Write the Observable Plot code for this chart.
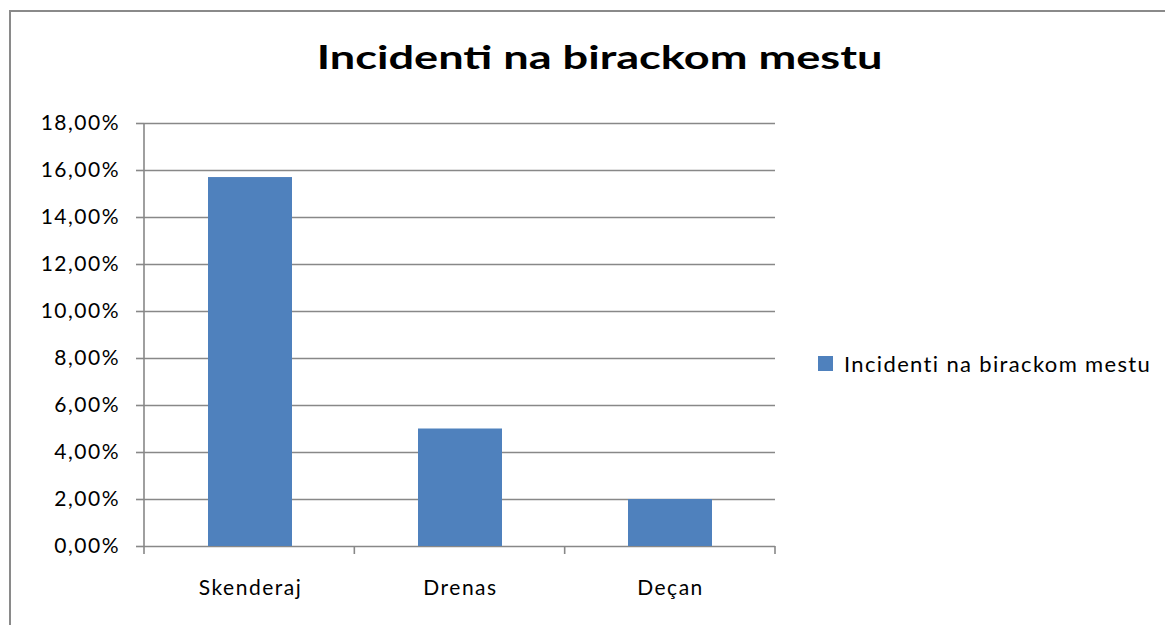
<!DOCTYPE html>
<html>
<head>
<meta charset="utf-8">
<script src="https://cdn.jsdelivr.net/npm/d3@7"></script>
<script src="https://cdn.jsdelivr.net/npm/@observablehq/plot@0.6"></script>
<style>
  html, body { margin: 0; padding: 0; background: #fff; width: 1165px; height: 625px; overflow: hidden; font-family: Lato, "Open Sans", sans-serif; }
  #frame { position: absolute; left: 9px; top: 10px; width: 1300px; height: 800px; border: 2px solid #8a8a8a; box-sizing: border-box; }
  #title { position: absolute; left: 0; width: 1200px; top: 41px; text-align: center; font-weight: 700; font-size: 32px; color: #000; line-height: 1; }
  #title span { display: inline-block; transform: scaleX(1.41); transform-origin: center; }
  #chart { position: absolute; left: 0; top: 100px; }
  #legend { position: absolute; left: 818px; top: 347px; width: 500px; }
  #legend span { white-space: nowrap; }
</style>
</head>
<body>
<div id="frame"></div>
<div id="title"><span></span></div>
<div id="chart"></div>
<div id="legend"></div>
<script>
const titleText = "Incidenti na birackom mestu";
const seriesName = "Incidenti na birackom mestu";
const categories = ["Skenderaj", "Drenas", "Deçan"];
const values = [0.157, 0.05, 0.02];
const yTicks = [0, 0.02, 0.04, 0.06, 0.08, 0.10, 0.12, 0.14, 0.16, 0.18];
const barColor = "#4F81BD";
const gridColor = "#888888";

const data = categories.map((c, i) => ({category: c, value: values[i]}));
const fmt = d => (d * 100).toFixed(2).replace(".", ",") + "%";

document.querySelector("#title span").textContent = titleText;

// axis line on the left and category boundary ticks on the bottom
function frameTicks(index, scales, vals, dims) {
  const g = d3.create("svg:g").attr("stroke", gridColor).attr("stroke-width", 1.6);
  const left = dims.marginLeft, right = dims.width - dims.marginRight;
  const top = dims.marginTop, bottom = dims.height - dims.marginBottom;
  const n = categories.length;
  const step = (right - left) / n;
  g.append("line").attr("x1", left).attr("x2", left).attr("y1", top).attr("y2", bottom + 8);
  for (let i = 1; i <= n; i++) {
    const x = left + i * step;
    g.append("line").attr("x1", x).attr("x2", x).attr("y1", bottom).attr("y2", bottom + 8);
  }
  return g.node();
}

const chart = Plot.plot({
  width: 1165,
  height: 525,
  marginTop: 23,
  marginBottom: 79,
  marginLeft: 144,
  marginRight: 390,
  style: {fontFamily: "Lato, 'Open Sans', sans-serif", fontSize: "21px", letterSpacing: "1.5px", color: "#000", background: "transparent", overflow: "visible"},
  x: {domain: categories, paddingInner: 0.6, paddingOuter: 0.3, label: null},
  y: {domain: [0, 0.18], label: null},
  marks: [
    Plot.gridY(yTicks, {stroke: gridColor, strokeOpacity: 1, strokeWidth: 1.6}),
    Plot.barY(data, {x: "category", y: "value", fill: barColor}),
    Plot.axisY(yTicks, {tickFormat: fmt, tickSize: 8, tickPadding: 16.5, stroke: gridColor, strokeWidth: 1.6, fill: "#000", fontSize: 21, label: null}),
    Plot.axisX({tickSize: 0, tickPadding: 34, fill: "#000", fontSize: 21, label: null}),
    frameTicks
  ]
});
document.getElementById("chart").appendChild(chart);

const legend = Plot.legend({
  color: {type: "ordinal", domain: [seriesName], range: [barColor]},
  legend: "swatches",
  swatchSize: 15,
  style: {fontFamily: "Lato, 'Open Sans', sans-serif", fontSize: "22px", letterSpacing: "1.35px", color: "#000"}
});
document.getElementById("legend").appendChild(legend);
</script>
</body>
</html>
